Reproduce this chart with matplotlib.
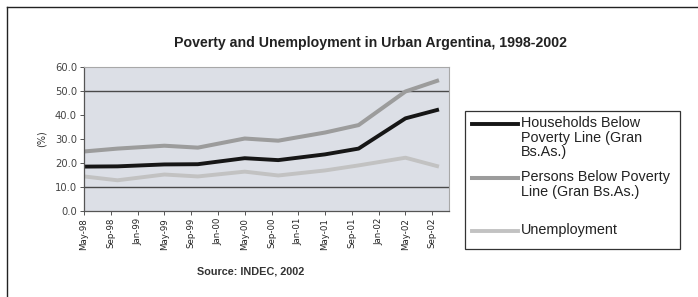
import numpy as np
import matplotlib.pyplot as plt
from matplotlib.lines import Line2D
from matplotlib.patches import Rectangle

# survey waves (months after May-98)
months = [0, 5, 12, 17, 24, 29, 36, 41, 48, 53]
households = [18.5, 18.6, 19.4, 19.5, 22.0, 21.2, 23.6, 26.0, 38.6, 42.3]
persons = [24.8, 26.0, 27.2, 26.4, 30.2, 29.3, 32.7, 35.8, 49.8, 54.5]
unemployment = [14.4, 12.8, 15.2, 14.4, 16.4, 14.8, 16.9, 19.0, 22.2, 18.5]

tick_months = list(range(0, 53, 4))
tick_labels = ['May-98', 'Sep-98', 'Jan-99', 'May-99', 'Sep-99', 'Jan-00', 'May-00',
               'Sep-00', 'Jan-01', 'May-01', 'Sep-01', 'Jan-02', 'May-02', 'Sep-02']

W, H = 698, 297
fig = plt.figure(figsize=(W / 100, H / 100), dpi=100)
fig.patch.set_facecolor('white')

ax = fig.add_axes([84 / W, 1 - 211 / H, (449 - 84) / W, (211 - 67) / H])
ax.set_facecolor('#dcdfe6')

ax.plot(months, unemployment, color='#c2c2c2', lw=2.8, solid_capstyle='butt')
ax.plot(months, persons, color='#9c9c9c', lw=2.9, solid_capstyle='butt')
ax.plot(months, households, color='#161616', lw=2.8, solid_capstyle='butt')

for g in [10, 50]:
    ax.axhline(g, color='#4a4a4a', lw=1.0, zorder=1)

ax.set_xlim(0, 54.5)
ax.set_ylim(0, 60)
ax.set_yticks(np.arange(0, 61, 10))
ax.set_yticklabels(['%.1f' % v for v in np.arange(0, 61, 10)], fontsize=7.2, color='#444444')
ax.set_xticks(tick_months)
ax.set_xticklabels(tick_labels, rotation=90, fontsize=6.2, color='#222222')
ax.tick_params(axis='both', length=3, width=0.7, color='#555555', pad=2)
ax.set_ylabel('(%)', fontsize=7, color='#333333', labelpad=6)

for s in ['top', 'right']:
    ax.spines[s].set_color('#a8a8a8')
    ax.spines[s].set_linewidth(0.8)
for s in ['left', 'bottom']:
    ax.spines[s].set_color('#555555')
    ax.spines[s].set_linewidth(0.9)

fig.text(370 / W, 1 - 43 / H, 'Poverty and Unemployment in Urban Argentina, 1998-2002',
         ha='center', va='center', fontsize=10.2, color='#222222', weight='bold',
         family='Liberation Sans')
fig.text(251 / W, 1 - 271 / H, 'Source: INDEC, 2002', ha='center', va='center',
         fontsize=7.8, color='#333333', weight='bold', family='Liberation Sans')

# outer frame
fig.add_artist(Line2D([7 / W, 7 / W], [0, 1 - 7 / H], color='#222222', lw=1.0))
fig.add_artist(Line2D([7 / W, 1], [1 - 7 / H, 1 - 7 / H], color='#222222', lw=1.0))

# legend
fig.add_artist(Rectangle((465 / W, 1 - 249 / H), (680 - 465) / W, (249 - 111) / H,
                         transform=fig.transFigure, fill=False, ec='#333333', lw=0.9))
entries = [
    (124, '#161616', 2.8, 'Households Below\nPoverty Line (Gran\nBs.As.)'),
    (178, '#9c9c9c', 2.9, 'Persons Below Poverty\nLine (Gran Bs.As.)'),
    (231, '#c2c2c2', 2.8, 'Unemployment'),
]
for y, c, lw, lab in entries:
    fig.add_artist(Line2D([472 / W, 518 / W], [1 - y / H, 1 - y / H], color=c, lw=lw))
    fig.text(521 / W, 1 - (y - 8) / H, lab, ha='left', va='top', fontsize=10.4,
             color='#222222', family='Liberation Sans', linespacing=1.05)

fig.savefig('out.png', dpi=100)
